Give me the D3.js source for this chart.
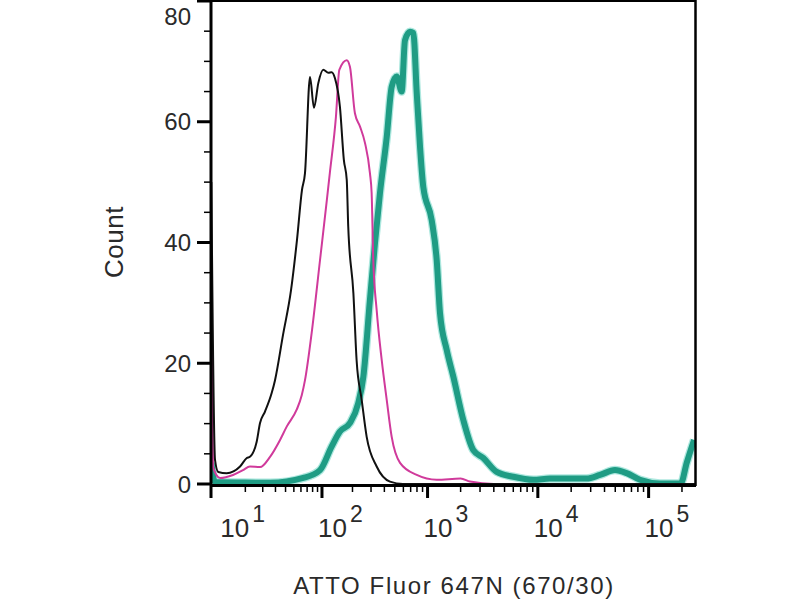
<!DOCTYPE html>
<html>
<head>
<meta charset="utf-8">
<script src="https://cdn.jsdelivr.net/npm/d3@7"></script>
<style>
  body { margin: 0; background: #fff; }
  text { font-family: "Liberation Sans", Arial, sans-serif; fill: #2a2a2a; }
</style>
</head>
<body>
<div id="chart"></div>
<script>
// Histogram data: [channel value, count]
var unstained = [
  [-1.9, 50], [-0.8, 4.0], [0.1, 2.0], [2.6, 1.8], [7.6, 2.9], [10.7, 4.3], [12.3, 4.5],
  [16.1, 7.0], [18.2, 10.1], [21.6, 12.0], [26.8, 15.1], [29.6, 17.2], [37.3, 24.7],
  [46.4, 32.1], [54.2, 40.4], [61.6, 48.7], [66.4, 51.5], [75.1, 67.4], [82.7, 62.3],
  [91.7, 66.4], [103, 68.6], [116, 68.1], [125, 68.2], [135, 67.2], [151, 62.5],
  [165, 53.7], [176, 50.4], [182, 42.6], [204, 31.6], [219, 20.5], [245, 13.9],
  [273, 7.8], [339, 2.9], [451, 0.4], [595, 0], [262144, 0]
];

var isotype = [
  [-1.9, 35], [-1.4, 2.8], [0.6, 1.0], [4.8, 1.5], [8.9, 2.3], [12.3, 2.9], [18.2, 2.8],
  [25.4, 4.5], [34.3, 7.3], [41.3, 9.5], [53.8, 12.3], [61.2, 14.7], [66.4, 17.2],
  [78.9, 25.5], [95.5, 37.1], [112, 47.0], [120, 51.5], [138, 60.8], [149, 68.6],
  [176, 70.2], [189, 69.1], [211, 61.4], [236, 59.2], [263, 56.5], [293, 51.5],
  [304, 48.2], [315, 37.1], [339, 28.8], [378, 20.5], [421, 13.9], [468, 7.8],
  [559, 3.5], [796, 1.5], [1212, 0.7], [2000, 0.9], [2434, 0.4], [4000, 0], [262144, 0]
];

var stained = [
  [-1.9, 3.5], [-0.8, 0.3], [0.6, 0.3], [25.4, 0.2], [63.6, 1.0], [95.5, 2.3],
  [125, 6.2], [151, 8.7], [189, 10.1], [227, 13.4], [254, 17.8], [293, 30.5],
  [327, 39.9], [364, 48.2], [421, 57.5], [468, 65.8], [521, 67.5], [579, 65.0],
  [621, 73.5], [690, 74.9], [741, 74.7], [796, 64.8], [853, 55.9], [914, 49.2],
  [1091, 43.7], [1212, 37.1], [1299, 28.3], [1495, 22.2], [1716, 17.8], [2116, 10.6],
  [2608, 5.6], [3212, 4.3], [4247, 2.0], [6005, 1.2], [9101, 0.7], [12880, 0.9],
  [27620, 0.9], [36410, 1.5], [49730, 2.3], [63430, 1.8], [83600, 0.7], [126700, 0.1],
  [195000, 0.1], [220600, 3.5], [257200, 7.3]
];

var yMajor = [0, 20, 40, 60, 80];
var yMinor = [5, 10, 15, 25, 30, 35, 45, 50, 55, 65, 70, 75];
var xDecades = [10, 100, 1000, 10000, 100000];
var xLabels = ['1', '2', '3', '4', '5'];

var width = 800;
var height = 600;

var svg = d3.select('#chart')
  .append('svg')
  .attr('width', width)
  .attr('height', height);

// Biexponential-like axis: linear near zero, log above ~100
var x = d3.scaleSymlog()
  .constant(13)
  .domain([-2, 262144])
  .range([211, 695]);

var y = d3.scaleLinear()
  .domain([0, 80])
  .range([484, 1]);

svg.append('clipPath')
  .attr('id', 'plot-clip')
  .append('rect')
  .attr('x', 211)
  .attr('y', 0)
  .attr('width', 484)
  .attr('height', 485);

var line = d3.line()
  .x(function(d) { return x(d[0]); })
  .y(function(d) { return y(d[1]); })
  .curve(d3.curveMonotoneX);

var curves = svg.append('g').attr('clip-path', 'url(#plot-clip)');

// soft halo round the thick teal line, as in the jpeg
curves.append('path')
  .attr('d', line(stained))
  .style('fill', 'none')
  .style('stroke', '#aee8df')
  .style('stroke-width', 8.5)
  .style('stroke-linejoin', 'round');

curves.append('path')
  .attr('d', line(stained))
  .style('fill', 'none')
  .style('stroke', '#1f9c84')
  .style('stroke-width', 6)
  .style('stroke-linejoin', 'round');

curves.append('path')
  .attr('d', line(isotype))
  .style('fill', 'none')
  .style('stroke', '#d03a9b')
  .style('stroke-width', 2)
  .style('stroke-linejoin', 'round');

curves.append('path')
  .attr('d', line(unstained))
  .style('fill', 'none')
  .style('stroke', '#111')
  .style('stroke-width', 2)
  .style('stroke-linejoin', 'round');

// Frame
svg.append('line')
  .attr('x1', 211).attr('x2', 211)
  .attr('y1', 0).attr('y2', 498)
  .style('stroke', '#000').style('stroke-width', 3);

svg.append('line')
  .attr('x1', 211).attr('x2', 696)
  .attr('y1', 485.5).attr('y2', 485.5)
  .style('stroke', '#000').style('stroke-width', 3);

svg.append('line')
  .attr('x1', 695.5).attr('x2', 695.5)
  .attr('y1', 0).attr('y2', 486)
  .style('stroke', '#000').style('stroke-width', 2.5);

svg.append('line')
  .attr('x1', 211).attr('x2', 696)
  .attr('y1', 1).attr('y2', 1)
  .style('stroke', '#000').style('stroke-width', 2);

// Y ticks
svg.selectAll('.ymajor')
  .data(yMajor)
  .enter().append('line')
  .attr('class', 'ymajor')
  .attr('x1', 197).attr('x2', 211)
  .attr('y1', function(d) { return y(d); })
  .attr('y2', function(d) { return y(d); })
  .style('stroke', '#000').style('stroke-width', 3);

svg.selectAll('.yminor')
  .data(yMinor)
  .enter().append('line')
  .attr('class', 'yminor')
  .attr('x1', 204).attr('x2', 211)
  .attr('y1', function(d) { return y(d); })
  .attr('y2', function(d) { return y(d); })
  .style('stroke', '#000').style('stroke-width', 1.5);

svg.selectAll('.ylabel')
  .data(yMajor)
  .enter().append('text')
  .attr('class', 'ylabel')
  .attr('x', 191)
  .attr('y', function(d) { return Math.max(y(d), 16); })
  .attr('dy', '.36em')
  .style('text-anchor', 'end')
  .style('font-size', '24px')
  .text(function(d) { return d; });

// X ticks: 10..90, 200..900, ... up to the top of the scale
var xMax = x.domain()[1];
var xMinor = [];
xDecades.forEach(function(d) {
  for (var k = 1; k < 10; k++) {
    if ((k > 1 || d === 10) && d * k <= xMax) xMinor.push(d * k);
  }
});

svg.selectAll('.xminor')
  .data(xMinor)
  .enter().append('line')
  .attr('class', 'xminor')
  .attr('x1', function(d) { return x(d); })
  .attr('x2', function(d) { return x(d); })
  .attr('y1', 486).attr('y2', 492)
  .style('stroke', '#000').style('stroke-width', 1.5);

svg.selectAll('.xmajor')
  .data(xDecades.slice(1))
  .enter().append('line')
  .attr('class', 'xmajor')
  .attr('x1', function(d) { return x(d); })
  .attr('x2', function(d) { return x(d); })
  .attr('y1', 486).attr('y2', 498)
  .style('stroke', '#000').style('stroke-width', 3);

var xl = svg.selectAll('.xlabel')
  .data(xDecades)
  .enter().append('text')
  .attr('class', 'xlabel')
  .attr('x', function(d) { return d === 10 ? x(d) - 25 : x(d) - 4; })
  .attr('y', 537)
  .style('font-size', '26px');

xl.append('tspan').text('10');
xl.append('tspan')
  .attr('dx', 3)
  .attr('dy', -15)
  .style('font-size', '23px')
  .text(function(d, i) { return xLabels[i]; });

// Axis titles
svg.append('text')
  .attr('x', 454)
  .attr('y', 594)
  .style('text-anchor', 'middle')
  .style('font-size', '24px')
  .style('letter-spacing', '1.6px')
  .text('ATTO Fluor 647N (670/30)');

svg.append('text')
  .attr('transform', 'translate(123,242) rotate(-90)')
  .style('text-anchor', 'middle')
  .style('font-size', '26px')
  .style('letter-spacing', '0.5px')
  .text('Count');
</script>
</body>
</html>
